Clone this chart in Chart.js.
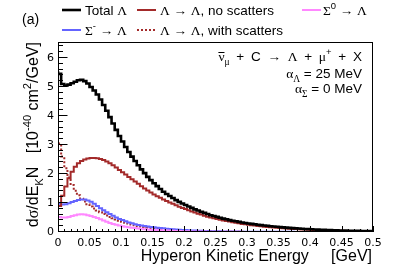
<!DOCTYPE html>
<html><head><meta charset="utf-8">
<script src="https://cdn.jsdelivr.net/npm/chart.js@4/dist/chart.umd.min.js"></script>
<style>html,body{margin:0;padding:0;background:#fff}canvas{display:block}</style>
</head><body>
<canvas id="c" width="415" height="267"></canvas>
<script>
// ---- Data (bin width 0.005 GeV, 100 bins from 0 to 0.5 GeV) ----
const binWidth = 0.005;
const seriesLabels = ['Total Λ', 'Λ → Λ, no scatters', 'Σ⁰ → Λ', 'Σ⁻ → Λ', 'Λ → Λ, with scatters'];
const xTickValues = [0, 0.05, 0.1, 0.15, 0.2, 0.25, 0.3, 0.35, 0.4, 0.45, 0.5];
const xTickLabels = ['0', '0.05', '0.1', '0.15', '0.2', '0.25', '0.3', '0.35', '0.4', '0.45', '0.5'];
const yTickValues = [0, 1, 2, 3, 4, 5, 6];
const yTickLabels = ['0', '1', '2', '3', '4', '5', '6'];

const totalLambda = [
 5.55,5.45,5.1,5.05,5.08,5.13,5.18,5.23,5.25,5.2,
 5.12,5.0,4.88,4.74,4.57,4.38,4.18,3.96,3.74,3.52,
 3.31,3.12,2.93,2.76,2.6,2.45,2.3,2.16,2.03,1.9,
 1.79,1.68,1.58,1.48,1.39,1.31,1.24,1.17,1.1,1.04,
 0.98,0.93,0.88,0.83,0.78,0.74,0.7,0.66,0.62,0.58,
 0.55,0.52,0.49,0.46,0.44,0.41,0.39,0.37,0.35,0.33,
 0.31,0.295,0.28,0.265,0.25,0.237,0.225,0.213,0.2,0.19,
 0.18,0.17,0.16,0.151,0.142,0.134,0.126,0.119,0.112,0.105,
 0.099,0.093,0.088,0.083,0.078,0.073,0.069,0.065,0.061,0.058,
 0.054,0.051,0.048,0.045,0.043,0.04,0.038,0.036,0.034,0.032];

const lambdaNoScatter = [
 0.45,0.9,1.25,1.57,1.85,2.08,2.25,2.37,2.45,2.5,
 2.53,2.55,2.55,2.54,2.52,2.48,2.43,2.37,2.3,2.22,
 2.14,2.06,1.98,1.9,1.82,1.74,1.66,1.58,1.5,1.43,
 1.36,1.29,1.23,1.18,1.12,1.07,1.02,0.97,0.92,0.87,
 0.83,0.79,0.75,0.71,0.67,0.63,0.6,0.56,0.53,0.5,
 0.47,0.45,0.42,0.4,0.38,0.36,0.34,0.32,0.3,0.28,
 0.265,0.25,0.235,0.22,0.21,0.2,0.185,0.175,0.165,0.155,
 0.145,0.137,0.128,0.12,0.113,0.106,0.1,0.094,0.088,0.083,
 0.078,0.073,0.069,0.065,0.061,0.057,0.054,0.051,0.048,0.045,
 0.042,0.04,0.037,0.035,0.033,0.031,0.029,0.027,0.026,0.024];

const sigmaZero = [
 0.55,0.52,0.5,0.5,0.52,0.55,0.58,0.6,0.61,0.6,
 0.58,0.55,0.52,0.48,0.44,0.4,0.35,0.31,0.28,0.25,
 0.225,0.2,0.18,0.165,0.15,0.135,0.12,0.108,0.097,0.088,
 0.08,0.072,0.065,0.059,0.053,0.048,0.043,0.039,0.035,0.032,
 0.029,0.026,0.023,0.021,0.019,0.017,0.015,0.014,0.012,0.011,
 0.01,0.009,0.008,0.008,0.007,0.006,0.006,0.005,0.005,0.004,
 0.004,0.004,0.003,0.003,0.003,0.003,0.002,0.002,0.002,0.002,
 0.002,0.002,0.002,0.002,0.002,0.001,0.001,0.001,0.001,0.001,
 0.001,0.001,0.001,0.001,0.001,0.001,0.001,0.001,0.001,0.001,
 0.001,0.001,0.001,0.001,0.001,0.001,0.001,0.001,0.001,0.001];

const sigmaMinus = [
 1.0,0.97,0.95,0.96,0.99,1.03,1.07,1.1,1.12,1.12,
 1.09,1.04,0.97,0.9,0.82,0.75,0.68,0.62,0.56,0.5,
 0.45,0.41,0.37,0.33,0.3,0.27,0.245,0.225,0.207,0.19,
 0.175,0.16,0.148,0.137,0.126,0.115,0.105,0.096,0.087,0.079,
 0.072,0.065,0.059,0.053,0.048,0.043,0.039,0.035,0.032,0.029,
 0.026,0.024,0.022,0.02,0.018,0.016,0.015,0.014,0.013,0.012,
 0.011,0.01,0.01,0.009,0.009,0.008,0.008,0.007,0.007,0.006,
 0.006,0.006,0.005,0.005,0.005,0.005,0.004,0.004,0.004,0.004,
 0.004,0.003,0.003,0.003,0.003,0.003,0.003,0.002,0.002,0.002,
 0.002,0.002,0.002,0.002,0.002,0.002,0.002,0.002,0.002,0.002];

const lambdaWithScatter = [
 3.6,3.05,2.6,2.2,1.88,1.62,1.42,1.27,1.15,1.05,
 0.96,0.88,0.81,0.74,0.68,0.62,0.57,0.52,0.47,0.43,
 0.39,0.35,0.32,0.29,0.26,0.235,0.21,0.19,0.17,0.15,
 0.135,0.12,0.107,0.095,0.085,0.075,0.067,0.06,0.053,0.047,
 0.042,0.037,0.033,0.029,0.026,0.023,0.02,0.018,0.016,0.014,
 0.012,0.011,0.01,0.009,0.008,0.007,0.006,0.006,0.005,0.005,
 0.004,0.004,0.004,0.003,0.003,0.003,0.003,0.002,0.002,0.002,
 0.002,0.002,0.002,0.001,0.001,0.001,0.001,0.001,0.001,0.001,
 0.001,0.001,0.001,0.001,0.001,0.001,0.001,0.001,0.001,0.001,
 0,0,0,0,0,0,0,0,0,0];

// ---- helpers ----
const SANS = '"Liberation Sans", Arial, Helvetica, sans-serif';
const SERIF = '"Liberation Serif", "DejaVu Serif", serif';
const TICKFONT = '"DejaVu Sans", sans-serif';
const EN = '\u2002';

function histPoints(values) {
  const pts = values.map((v, i) => ({ x: i * binWidth, y: v }));
  pts.push({ x: values.length * binWidth, y: values[values.length - 1] });
  return pts;
}

function runFont(r, size) {
  const s = (r.sub || r.sup) ? size * 0.7 : size;
  return s + 'px ' + (r.serif ? SERIF : SANS);
}
function richWidth(ctx, runs, size) {
  let w = 0;
  for (const r of runs) { ctx.font = runFont(r, size); w += ctx.measureText(r.t).width; }
  return w;
}
function drawRich(ctx, runs, x, y, size, align) {
  const w = richWidth(ctx, runs, size);
  let cx = align === 'right' ? x - w : x;
  ctx.textAlign = 'left';
  ctx.textBaseline = 'alphabetic';
  for (const r of runs) {
    ctx.font = runFont(r, size);
    const dy = r.sub ? 0.3 * size : (r.sup ? -0.42 * size : 0);
    const rw = ctx.measureText(r.t).width;
    ctx.fillText(r.t, cx, y + dy);
    if (r.bar) {
      ctx.save(); ctx.lineWidth = 1; ctx.strokeStyle = ctx.fillStyle;
      const by = Math.round(y - 0.62 * size) - 0.5;
      ctx.beginPath(); ctx.moveTo(cx, by); ctx.lineTo(cx + rw, by); ctx.stroke();
      ctx.restore();
    }
    cx += rw;
  }
  return w;
}

const L = (t) => ({ t, serif: true });
const legendEntries = [
  { ds: 0, x: 62, y: 10, tx: 85, runs: [{ t: 'Total ' }, L('Λ')] },
  { ds: 1, x: 137, y: 10, tx: 160, runs: [L('Λ'), { t: ' ' }, L('→'), { t: ' ' }, L('Λ'), { t: ', no scatters' }] },
  { ds: 2, x: 302, y: 10, tx: 323, runs: [L('Σ'), { t: '0', sup: true }, { t: ' ' }, L('→'), { t: ' ' }, L('Λ')] },
  { ds: 3, x: 62, y: 30, tx: 85, runs: [L('Σ'), { t: '-', sup: true }, { t: ' ' }, L('→'), { t: ' ' }, L('Λ')] },
  { ds: 4, x: 137, y: 30, tx: 160, runs: [L('Λ'), { t: ' ' }, L('→'), { t: ' ' }, L('Λ'), { t: ', with scatters' }] }
];

const decor = {
  id: 'decor',
  beforeDraw(chart) {
    const ctx = chart.ctx;
    ctx.save(); ctx.fillStyle = '#fff'; ctx.fillRect(0, 0, chart.width, chart.height); ctx.restore();
  },
  afterDraw(chart) {
    const ctx = chart.ctx;
    const a = chart.chartArea;
    const xs = chart.scales.x, ys = chart.scales.y;
    ctx.save();
    ctx.strokeStyle = '#000';
    ctx.lineWidth = 1;
    // frame
    ctx.strokeRect(Math.round(a.left) + 0.5, Math.round(a.top) + 0.5, Math.round(a.right - a.left) - 1, Math.round(a.bottom - a.top) - 1);
    // y ticks
    ctx.beginPath();
    for (let k = 0; k <= 40; k++) {
      const v = k * 0.2;
      if (v > ys.max) break;
      const py = Math.round(ys.getPixelForValue(v)) - 0.5;
      const len = (k % 5 === 0) ? 9.5 : 5;
      ctx.moveTo(a.left, py); ctx.lineTo(a.left + len, py);
    }
    // x ticks
    for (let k = 0; k <= 50; k++) {
      const v = k * 0.01;
      const px = Math.round(xs.getPixelForValue(v)) + 0.5;
      const len = (k % 5 === 0) ? 6 : 3;
      ctx.moveTo(px, a.bottom); ctx.lineTo(px, a.bottom - len);
    }
    ctx.stroke();

    ctx.fillStyle = '#000';
    // x title
    ctx.font = '16px ' + SANS;
    ctx.textAlign = 'right'; ctx.textBaseline = 'alphabetic';
    ctx.fillText('Hyperon Kinetic Energy     [GeV]', a.right - 1, 261);
    // y title (rotated)
    ctx.save();
    ctx.translate(38, a.top);
    ctx.rotate(-Math.PI / 2);
    drawRich(ctx, [{ t: 'd' }, L('σ'), { t: '/dE' }, { t: 'K', sub: true }, { t: 'N   [10' }, { t: '-40', sup: true }, { t: ' cm' }, { t: '2', sup: true }, { t: '/GeV]' }], 0, 0, 16, 'right');
    ctx.restore();

    // panel label
    ctx.font = '14px ' + SANS; ctx.textAlign = 'left';
    ctx.fillText('(a)', 22, 24);

    // legend
    for (const e of legendEntries) {
      const ds = chart.data.datasets[e.ds];
      ctx.save();
      ctx.strokeStyle = ds.borderColor; ctx.lineWidth = ds.borderWidth;
      ctx.setLineDash(ds.borderDash || []);
      ctx.beginPath(); ctx.moveTo(e.x, e.y); ctx.lineTo(e.x + 19, e.y); ctx.stroke();
      ctx.restore();
      drawRich(ctx, e.runs, e.tx, e.y + 5, 13.5, 'left');
    }

    // annotation
    drawRich(ctx, [{ t: 'ν', serif: true, bar: true }, { t: 'μ', sub: true, serif: true }, { t: EN + '+' + EN + 'C' + EN }, L('→'), { t: EN }, L('Λ'), { t: EN + '+' + EN }, L('μ'), { t: '+', sup: true }, { t: EN + '+' + EN + 'X' }], 362, 61, 13.5, 'right');
    drawRich(ctx, [L('α'), { t: 'Λ', sub: true, serif: true }, { t: ' = 25 MeV' }], 362, 78, 13.5, 'right');
    drawRich(ctx, [L('α'), { t: 'Σ', sub: true, serif: true }, { t: ' = 0 MeV' }], 362, 93, 13.5, 'right');
    ctx.restore();
  }
};

const mk = (label, values, color, width, dash) => ({
  label, data: histPoints(values), borderColor: color, borderWidth: width,
  borderDash: dash || [], stepped: 'after', pointRadius: 0, fill: false, tension: 0,
  borderJoinStyle: 'miter', borderCapStyle: 'butt'
});

new Chart(document.getElementById('c'), {
  type: 'line',
  data: {
    datasets: [
      mk(seriesLabels[0], totalLambda, '#000000', 2.6),
      mk(seriesLabels[1], lambdaNoScatter, '#a32a2a', 2),
      mk(seriesLabels[2], sigmaZero, '#ff88ff', 2),
      mk(seriesLabels[3], sigmaMinus, '#6464ff', 2),
      mk(seriesLabels[4], lambdaWithScatter, '#a32a2a', 2, [2, 2])
    ]
  },
  options: {
    responsive: false,
    devicePixelRatio: 1,
    animation: false,
    layout: { padding: { top: 42, right: 42, left: 0, bottom: 0 } },
    plugins: { legend: { display: false }, tooltip: { enabled: false } },
    scales: {
      x: {
        type: 'linear', min: 0, max: 0.5,
        grid: { display: false, drawTicks: false }, border: { display: false },
        afterBuildTicks: (s) => { s.ticks = xTickValues.map(v => ({ value: v })); },
        afterFit: (s) => { s.height = 35; },
        ticks: { autoSkip: false, maxRotation: 0, padding: 5, color: '#000', font: { family: TICKFONT, size: 11 },
                 callback: (v, i) => xTickLabels[i] }
      },
      y: {
        type: 'linear', min: 0, max: 6.55,
        grid: { display: false, drawTicks: false }, border: { display: false },
        afterBuildTicks: (s) => { s.ticks = yTickValues.map(v => ({ value: v })); },
        afterFit: (s) => { s.width = 58; },
        ticks: { autoSkip: false, padding: 4, color: '#000', font: { family: TICKFONT, size: 11 },
                 callback: (v, i) => yTickLabels[i] }
      }
    }
  },
  plugins: [decor]
});
</script>
</body></html>
